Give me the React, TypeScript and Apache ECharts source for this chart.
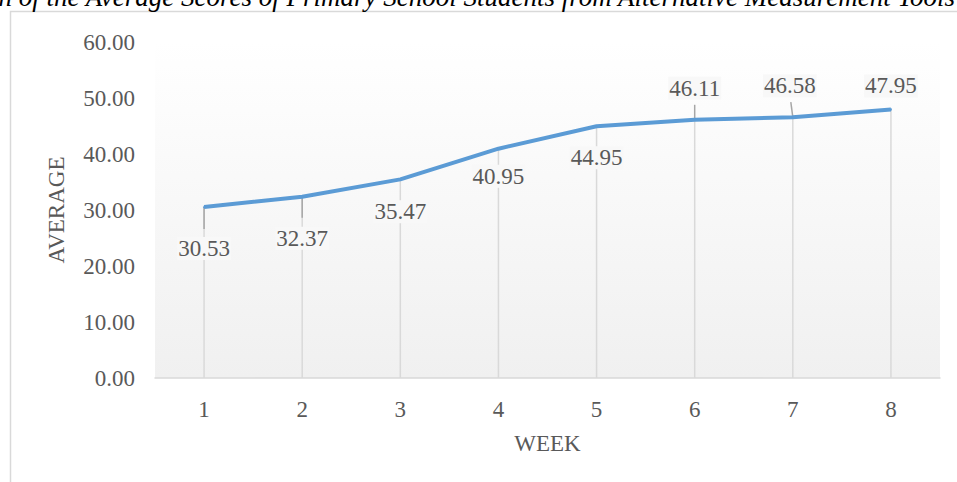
import React, { useEffect, useRef } from "react";
import * as echarts from "echarts";

const weeks = ["1", "2", "3", "4", "5", "6", "7", "8"];
const averages = [30.53, 32.37, 35.47, 40.95, 44.95, 46.11, 46.58, 47.95];
const yTicks = { min: 0, max: 60, interval: 10 };
const titleText =
  "Comparison of the Average Scores of Primary School Students from Alternative Measurement Tools";

// label placement per week: below the line for the early weeks, above for the late ones
const labelPlacement: { position: "top" | "bottom"; distance: number; dx: number }[] = [
  { position: "bottom", distance: 29, dx: 0 },
  { position: "bottom", distance: 29, dx: 0 },
  { position: "bottom", distance: 20, dx: 0 },
  { position: "bottom", distance: 15, dx: 0 },
  { position: "bottom", distance: 19, dx: 0 },
  { position: "top", distance: 19, dx: 0 },
  { position: "top", distance: 19, dx: -3 },
  { position: "top", distance: 11, dx: 0 },
];

// short guide strokes between a point and its label (pixel offsets from the point)
const leaders: ({ y1: number; y2: number; dx: number } | null)[] = [
  { y1: 0, y2: 22, dx: 0 },
  { y1: 0, y2: 21, dx: 0 },
  null,
  null,
  null,
  { y1: 0, y2: -15, dx: 0 },
  { y1: 0, y2: -15, dx: -2 },
  null,
];

const SERIF = "Liberation Serif";
const TEXT_GREY = "#595959";
const FONT_SIZE = 23;

export default function App() {
  const ref = useRef<HTMLDivElement>(null);

  useEffect(() => {
    document.body.style.margin = "0";
    if (!ref.current) return;
    const chart = echarts.init(ref.current, undefined, { renderer: "svg" });

    const lineData = averages.map((v, i) => {
      const p = labelPlacement[i];
      return {
        value: v,
        label: { position: p.position, distance: p.distance, offset: [p.dx, 0] },
      };
    });

    chart.setOption({
      animation: false,
      backgroundColor: "#ffffff",
      graphic: [
        {
          type: "rect",
          shape: { x: 10.5, y: 11.5, width: 1000, height: 1000 },
          style: { fill: "none", stroke: "#d9d9d9", lineWidth: 1.5 },
          silent: true,
          z: 0,
        },
        {
          type: "text",
          x: 955,
          y: 10,
          style: {
            text: titleText,
            fontFamily: SERIF,
            fontStyle: "italic",
            fontSize: 27,
            fill: "#000000",
            align: "right",
            verticalAlign: "bottom",
          },
          silent: true,
        },
      ],
      grid: {
        left: 155,
        right: 17,
        top: 42,
        bottom: 104,
        show: true,
        borderWidth: 0,
        backgroundColor: new echarts.graphic.LinearGradient(0, 0, 0, 1, [
          { offset: 0, color: "#ffffff" },
          { offset: 1, color: "#f0f0f0" },
        ]),
      },
      xAxis: {
        type: "category",
        data: weeks,
        boundaryGap: true,
        name: "WEEK",
        nameLocation: "middle",
        nameGap: 54,
        nameTextStyle: { fontFamily: SERIF, fontSize: FONT_SIZE, color: TEXT_GREY },
        axisLine: { lineStyle: { color: "#d9d9d9", width: 1.5 } },
        axisTick: { show: false },
        axisLabel: { fontFamily: SERIF, fontSize: FONT_SIZE, color: TEXT_GREY, margin: 20 },
        splitLine: { show: false },
      },
      yAxis: {
        type: "value",
        min: yTicks.min,
        max: yTicks.max,
        interval: yTicks.interval,
        name: "AVERAGE",
        nameLocation: "middle",
        nameRotate: 90,
        nameGap: 87,
        nameTextStyle: { fontFamily: SERIF, fontSize: FONT_SIZE, color: TEXT_GREY },
        axisLine: { show: false },
        axisTick: { show: false },
        splitLine: { show: false },
        axisLabel: {
          fontFamily: SERIF,
          fontSize: FONT_SIZE,
          color: TEXT_GREY,
          margin: 20,
          formatter: (v: number) => v.toFixed(2),
        },
      },
      series: [
        {
          // drop lines from each point down to the axis
          type: "bar",
          data: averages,
          barWidth: 1.5,
          itemStyle: { color: "#d9d9d9" },
          silent: true,
          z: 1,
        },
        {
          // label guide strokes
          type: "custom",
          data: averages.map((v, i) => [i, v]),
          silent: true,
          z: 2,
          renderItem: (params: any, api: any) => {
            const g = leaders[params.dataIndex];
            if (!g) return null;
            const pt = api.coord([api.value(0), api.value(1)]);
            return {
              type: "line",
              shape: { x1: pt[0], y1: pt[1] + g.y1, x2: pt[0] + g.dx, y2: pt[1] + g.y2 },
              style: { stroke: "#a6a6a6", lineWidth: 1.5 },
            };
          },
        },
        {
          type: "line",
          data: lineData,
          symbol: "circle",
          symbolSize: 2,
          showSymbol: true,
          lineStyle: { color: "#5b9bd5", width: 4 },
          itemStyle: { color: "#5b9bd5" },
          z: 3,
          label: {
            show: true,
            fontFamily: SERIF,
            fontSize: FONT_SIZE,
            color: TEXT_GREY,
            backgroundColor: "#f8f8f8",
            padding: [0, 1],
            formatter: (p: any) => p.value.toFixed(2),
          },
        },
      ],
    });

    return () => chart.dispose();
  }, []);

  return <div ref={ref} style={{ width: 957, height: 482 }} />;
}
